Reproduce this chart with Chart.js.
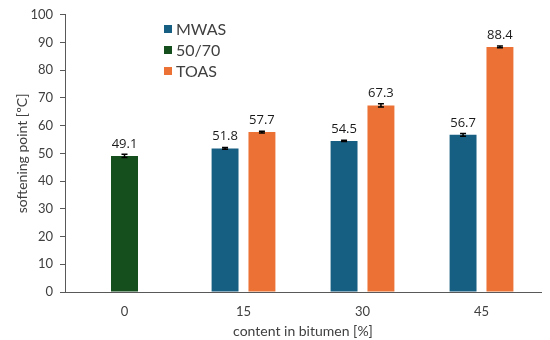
<!DOCTYPE html>
<html>
<head>
<meta charset="utf-8">
<script src="https://cdn.jsdelivr.net/npm/chart.js@4.4.0/dist/chart.umd.min.js"></script>
<style>
  html, body { margin: 0; padding: 0; background: #fff; }
  #wrap { width: 550px; height: 340px; }
</style>
</head>
<body>
<div id="wrap"><canvas id="softChart"></canvas></div>
<script>
// data
const categories = ['0', '15', '30', '45'];
const mwasValues = [null, 51.8, 54.5, 56.7];
const baseValues = [49.1, null, null, null];
const toasValues = [null, 57.7, 67.3, 88.4];
const mwasErrors = [null, 0.3, 0.2, 0.5];
const baseErrors = [0.6, null, null, null];
const toasErrors = [null, 0.3, 0.6, 0.3];
const yTicks = [0, 10, 20, 30, 40, 50, 60, 70, 80, 90, 100];

const textColor = '#404040';
const axisColor = '#595959';

// error bars + value labels on top of each bar
const barExtras = {
    id: 'barExtras',
    afterDatasetsDraw(chart) {
        const ctx = chart.ctx;
        const y = chart.scales.y;
        chart.data.datasets.forEach((ds, i) => {
            const meta = chart.getDatasetMeta(i);
            meta.data.forEach((bar, j) => {
                const v = ds.data[j];
                if (v === null || v === undefined) return;
                const err = ds.errors[j] || 0;
                const top = y.getPixelForValue(v + err);
                const bot = y.getPixelForValue(v - err);
                ctx.save();
                ctx.strokeStyle = '#000';
                ctx.lineWidth = 1.5;
                ctx.beginPath();
                ctx.moveTo(bar.x, top); ctx.lineTo(bar.x, bot);
                ctx.moveTo(bar.x - 3, top); ctx.lineTo(bar.x + 3, top);
                ctx.moveTo(bar.x - 3, bot); ctx.lineTo(bar.x + 3, bot);
                ctx.stroke();
                ctx.fillStyle = '#1a1a1a';
                ctx.font = '13px "Open Sans"';
                ctx.textAlign = 'center';
                ctx.textBaseline = 'alphabetic';
                ctx.fillText(v.toFixed(1), bar.x, y.getPixelForValue(v) - 8);
                ctx.restore();
            });
        });
    }
};

// legend inside the plot, top left
const innerLegend = {
    id: 'innerLegend',
    afterDraw(chart) {
        const ctx = chart.ctx;
        ctx.save();
        ctx.font = '16px Lato';
        ctx.textBaseline = 'middle';
        chart.data.datasets.forEach((ds, i) => {
            const cy = 29 + i * 21;
            ctx.fillStyle = ds.backgroundColor;
            ctx.fillRect(164, cy - 4, 8, 8);
            ctx.fillStyle = textColor;
            ctx.fillText(ds.label, 176, cy + 1);
        });
        ctx.restore();
    }
};

new Chart(document.getElementById('softChart'), {
    type: 'bar',
    data: {
        labels: categories,
        datasets: [
            { label: 'MWAS', data: mwasValues, errors: mwasErrors, backgroundColor: '#175f82' },
            { label: '50/70', data: baseValues, errors: baseErrors, backgroundColor: '#154f1e' },
            { label: 'TOAS', data: toasValues, errors: toasErrors, backgroundColor: '#eb7234' }
        ]
    },
    options: {
        responsive: true,
        maintainAspectRatio: false,
        animation: false,
        skipNull: true,
        categoryPercentage: 0.62,
        barPercentage: 0.73,
        maxBarThickness: 27,
        layout: { padding: { top: 12, right: 9, left: 0, bottom: 0 } },
        plugins: {
            legend: { display: false },
            tooltip: { enabled: false }
        },
        scales: {
            x: {
                grid: { display: false, drawTicks: false },
                border: { display: true, color: axisColor, width: 1 },
                ticks: { color: textColor, font: { family: 'Lato', size: 13 }, padding: 12 },
                title: {
                    display: true,
                    text: 'content in bitumen [%]',
                    color: textColor,
                    font: { family: 'Lato', size: 14 },
                    padding: { top: 5, bottom: 0 }
                },
                afterFit(scale) { scale.height = 48; }
            },
            y: {
                min: 0,
                max: 100,
                afterBuildTicks(scale) { scale.ticks = yTicks.map(v => ({ value: v })); },
                grid: { drawOnChartArea: false, drawTicks: true, tickLength: 5, color: axisColor },
                border: { display: true, color: axisColor, width: 1 },
                ticks: { color: textColor, font: { family: 'Lato', size: 13 }, padding: 7 },
                title: {
                    display: true,
                    text: 'softening point [ºC]',
                    color: textColor,
                    font: { family: 'Lato', size: 14 },
                    padding: { top: 14, bottom: 4 }
                },
                afterFit(scale) { scale.width = 65; }
            }
        }
    },
    plugins: [barExtras, innerLegend]
});
</script>
</body>
</html>
